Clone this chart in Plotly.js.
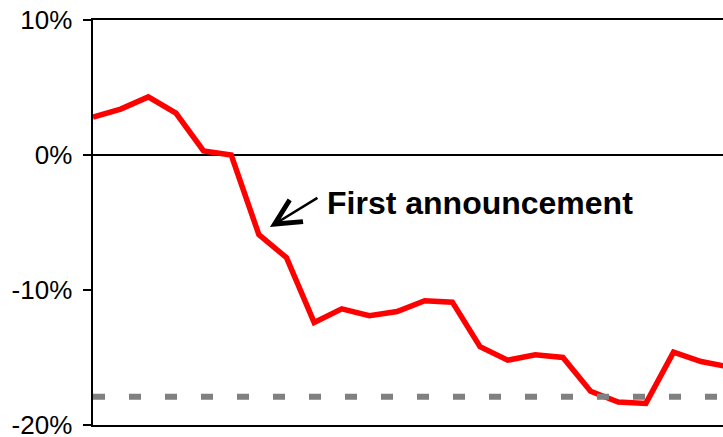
<!DOCTYPE html>
<html>
<head>
<meta charset="utf-8">
<script src="https://cdn.plot.ly/plotly-3.0.1.min.js"></script>
<style>
  html, body { margin: 0; padding: 0; background: #ffffff; overflow: hidden; }
  #chart { width: 723px; height: 437px; }
</style>
</head>
<body>
<div id="chart"></div>
<script>
// Trading days since the start of the window
var days = [0, 1, 2, 3, 4, 5, 6, 7, 8, 9, 10, 11, 12, 13, 14, 15, 16, 17, 18, 19, 20, 21, 22, 23];
// Relative share price change, in percent
var priceChange = [2.8, 3.4, 4.3, 3.1, 0.3, 0.0, -5.9, -7.6, -12.4, -11.4, -11.9, -11.6,
                   -10.8, -10.9, -14.2, -15.2, -14.8, -15.0, -17.5, -18.3, -18.4, -14.6, -15.3, -15.7];
// Reference level shown as a dashed line, in percent
var referenceLevel = -17.9;
// Y axis ticks
var yTickValues = [-20, -10, 0, 10];
var yTickLabels = ['-20%', '-10%', '0%', '10%'];
// Event marker
var eventDay = 6;
var eventLabel = 'First announcement';
var chartTitle = 'Share price (relative)';

var fontFamily = 'Liberation Sans, Arial, sans-serif';

var traces = [
  {
    x: days,
    y: priceChange,
    type: 'scatter',
    mode: 'lines',
    line: { color: '#ff0000', width: 5.5 },
    hoverinfo: 'skip'
  },
  {
    x: [days[0], days[days.length - 1]],
    y: [referenceLevel, referenceLevel],
    type: 'scatter',
    mode: 'lines',
    line: { color: '#808080', width: 6, dash: '12px,24px' },
    hoverinfo: 'skip'
  }
];

var layout = {
  width: 723,
  height: 437,
  margin: { l: 93, r: 0, t: 20, b: 12 },
  paper_bgcolor: '#ffffff',
  plot_bgcolor: '#ffffff',
  showlegend: false,
  font: { family: fontFamily, color: '#000000' },
  xaxis: {
    range: [0, 22.79],
    showgrid: false,
    zeroline: false,
    showline: true,
    linecolor: '#000000',
    linewidth: 2,
    mirror: true,
    showticklabels: false,
    ticks: ''
  },
  yaxis: {
    range: [-20.001, 10],
    tickvals: yTickValues,
    ticktext: yTickLabels,
    automargin: false,
    ticklabeloverflow: 'allow',
    showgrid: false,
    zeroline: true,
    zerolinecolor: '#000000',
    zerolinewidth: 1.5,
    showline: true,
    linecolor: '#000000',
    linewidth: 2.5,
    ticks: 'outside',
    ticklen: 8,
    tickwidth: 1.5,
    tickcolor: '#000000',
    ticklabelstandoff: 5,
    tickfont: { family: fontFamily, size: 26, color: '#000000' }
  },
  annotations: [
    {
      x: eventDay + 0.4,
      y: -5.33,
      xref: 'x',
      yref: 'y',
      text: '',
      showarrow: true,
      arrowhead: 5,
      arrowsize: 2,
      arrowwidth: 2.5,
      arrowcolor: '#000000',
      standoff: 0,
      ax: 49,
      ay: -30
    },
    {
      x: eventDay + 2.39,
      y: -3.55,
      xref: 'x',
      yref: 'y',
      xanchor: 'left',
      yanchor: 'middle',
      text: '<b>' + eventLabel + '</b>',
      showarrow: false,
      font: { family: fontFamily, size: 32, color: '#000000' }
    },
    {
      x: 0,
      y: 1.13,
      xref: 'paper',
      yref: 'paper',
      xanchor: 'left',
      yanchor: 'bottom',
      text: '<b>' + chartTitle + '</b>',
      showarrow: false,
      font: { family: fontFamily, size: 24, color: '#000000' }
    }
  ]
};

// Title starts 155 px from the left edge of the page
layout.annotations[2].x = (155 - 93) / (723 - 93);

Plotly.newPlot('chart', traces, layout, { displayModeBar: false, staticPlot: true });
</script>
</body>
</html>
